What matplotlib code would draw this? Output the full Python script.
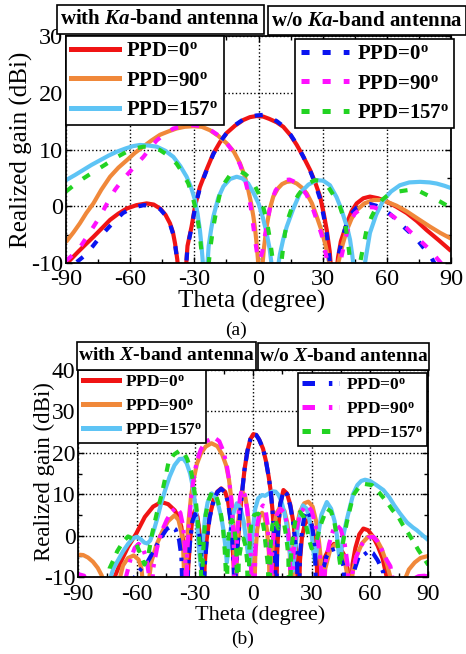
import numpy as np
import matplotlib
matplotlib.use("Agg")
import matplotlib.pyplot as plt
from matplotlib.patches import Rectangle
from matplotlib.lines import Line2D
from matplotlib.ticker import MultipleLocator

plt.rcParams['font.family'] = 'Liberation Serif'
plt.rcParams['axes.unicode_minus'] = False
plt.rcParams['mathtext.fontset'] = 'custom'
plt.rcParams['mathtext.rm'] = 'Liberation Serif:bold'
plt.rcParams['mathtext.it'] = 'Liberation Serif:italic:bold'
plt.rcParams['mathtext.bf'] = 'Liberation Serif:bold'
plt.rcParams['lines.scale_dashes'] = False

# ---------------- (a) Ka-band : (theta, gain) ----------------
ka_with_0 = [(-90,-10.8),(-88.9,-9.8),(-84,-7.9),(-80.5,-6.6),(-77.2,-5.4),(-73,-3.8),(-69.4,-2.4),
    (-65.5,-1.3),(-61.6,-0.4),(-57,0.2),(-52.3,0.5),(-49,0.3),(-46,-0.4),(-43.5,-1.5),(-41.4,-3.0),
    (-40,-4.6),(-39,-6.6),(-38,-9.3),(-37.3,-12),(-36,-25),(-34.3,-13),(-33.2,-7),(-31.3,-3.6),
    (-29.5,0.3),(-27.4,3.4),(-24,6.7),(-21.1,9.3),(-18,11.3),(-14.9,12.9),(-11,14.2),(-7.1,15.2),
    (-4,15.7),(-0.9,15.9),(2.2,15.8),(5,15.4),(8.5,14.8),(11.6,14.0),(15,12.5),(17.9,10.8),(21,8.7),
    (24.1,6.4),(26.5,4.2),(28.8,1.7),(30.5,-1.3),(31.9,-4.2),(33.3,-8),(34.1,-12),(35.3,-25),
    (36.4,-12),(37.2,-9),(38.5,-6.2),(41.3,-3.0),(43.5,-0.9),(45.9,0.5),(49,1.4),(52.1,1.7),(56,1.4),
    (60,0.8),(64.5,-0.1),(69.3,-1.2),(74,-2.6),(78.6,-4.2),(84,-5.9),(89.5,-7.7),(90,-7.9)]
ka_with_90 = [(-90,-6.3),(-86.5,-4.6),(-83.5,-3.0),(-80.5,-1.2),(-77.2,0.5),(-73.5,2.9),(-69.4,5.2),
    (-65.5,6.8),(-61.6,8.1),(-57.8,9.4),(-53.9,10.5),(-50,11.6),(-46,12.6),(-42,13.2),(-38.3,13.7),
    (-34.5,14.0),(-30.5,14.1),(-26.5,14.0),(-22.7,13.4),(-18.8,12.4),(-14.9,11.1),(-11.5,9.6),
    (-8.7,7.6),(-6.5,5.4),(-4.8,2.9),(-3.5,0.6),(-2.4,-1.8),(-1.6,-4.0),(-0.9,-6.5),(-0.3,-9.2),
    (0.3,-13),(0.9,-25),(1.5,-12),(2.5,-7.5),(3.8,-3.6),(5.2,-0.6),(6.9,1.7),(9,3.1),(11,3.9),
    (13.2,4.3),(15.5,4.4),(17.9,4.0),(20.2,3.3),(22.5,2.3),(25,0.5),(27.2,-1.8),(29.3,-4.1),
    (31.1,-6.5),(32.3,-8.5),(33.1,-10),(33.8,-13),(35,-25),(36.5,-13),(37.3,-10),(39.3,-6.8),
    (41.3,-4.2),(43.5,-2.2),(45.9,-0.7),(49.5,0.5),(53.7,1.1),(57,1.1),(60,0.8),(64.5,0.1),
    (69.3,-0.9),(74.5,-2.2),(80.2,-3.6),(85,-4.7),(89.5,-5.6),(90,-5.7)]
ka_with_157 = [(-90,4.6),(-85.8,5.5),(-81.9,6.4),(-78,7.3),(-74.1,8.1),(-70.2,8.9),(-66.3,9.6),
    (-62,10.2),(-58.6,10.6),(-55.4,10.8),(-51.5,10.7),(-47.6,10.5),(-43.7,9.8),(-39.8,8.7),
    (-36.6,7.1),(-33.6,5.2),(-31.5,3.3),(-29.7,1.1),(-28.5,-1.3),(-27.4,-4.2),(-26.6,-7.2),
    (-25.9,-10.5),(-25,-25),(-24,-11),(-23.3,-7),(-22.2,-4.2),(-21.1,-1.8),(-18.8,1.5),(-16.4,3.5),
    (-13.3,4.8),(-10.2,5.2),(-7.5,4.9),(-4.8,4.0),(-2.4,2.4),(0,0.5),(1.9,-1.8),(3.8,-4.7),
    (5.2,-7.5),(6.2,-10.5),(7.5,-25),(9,-11),(10,-8.5),(11.5,-5.9),(13.2,-3.6),(16.3,-0.4),
    (19.4,2.3),(23.3,3.8),(27.2,4.6),(30.3,4.5),(33.4,3.7),(36.5,1.6),(38.5,-0.3),(39.7,-1.7),
    (41.5,-3.8),(42.8,-5.9),(43.8,-8.5),(44.6,-11),(46.5,-25),(49,-12),(50.2,-9),(52.1,-4.7),
    (55,-1.5),(58.4,1.1),(62,2.6),(66.1,3.7),(70.5,4.2),(75.5,4.3),(80,4.2),(83.3,4.0),(87,3.6),(90,3.2)]
ka_wo_0 = [(-90,-13),(-85.5,-10),(-81,-8.6),(-77.6,-7.1),(-74.5,-5.6),(-71.2,-4.2),(-67.3,-2.6),
    (-63.4,-1.2),(-58.5,-0.2),(-53.5,0.2),(-49.5,0.0),(-46,-0.5),(-43.5,-1.6),(-41.4,-3.1),(-40,-4.8),
    (-39,-6.8),(-38,-9.5),(-37.3,-12),(-36,-25),(-34.3,-13),(-33.2,-7.2),(-31.3,-3.8),(-29.5,0.1),
    (-27.4,3.2),(-24,6.6),(-21.1,9.2),(-18,11.3),(-14.9,12.9),(-11,14.3),(-7.1,15.3),(-4,15.8),
    (-0.9,16.0),(2.2,16.1),(5,15.7),(8.5,15.0),(11.6,14.1),(15,12.6),(17.9,10.9),(21,8.7),(24.1,6.3),
    (26.5,4.0),(28.8,1.3),(30.5,-1.8),(31.9,-4.8),(33.0,-8.5),(33.8,-12),(35,-25),(36.2,-12),
    (37.5,-8.5),(39.5,-5.2),(41.3,-3.0),(43.5,-1.3),(46,-0.2),(49,0.3),(52,0.4),(55,0.1),(60,-0.9),
    (64,-2.2),(67.8,-3.6),(71.5,-4.9),(74.8,-6.2),(78,-7.7),(81,-9.2),(83,-10.5),(85,-13)]
ka_wo_90 = [(-90,-9.6),(-86,-8.3),(-82.7,-6.8),(-78.5,-4.4),(-74.1,-1.8),(-70.5,0.7),(-67.1,2.9),
    (-63.5,4.7),(-60.1,6.1),(-56.8,7.5),(-53.8,8.7),(-50.5,10.3),(-47.6,11.6),(-43.5,12.8),
    (-39.8,13.7),(-35,14.1),(-30.5,14.3),(-26.5,14.1),(-22.7,13.5),(-18.8,12.5),(-14.9,11.1),
    (-11.5,9.5),(-8.7,7.4),(-6.5,5.0),(-4.8,2.4),(-3.6,-0.2),(-2.6,-3.0),(-1.7,-5.6),(-0.8,-8.0),
    (0.5,-9.6),(1.8,-8.0),(3.2,-4.8),(4.5,-2.0),(5.9,0.8),(8,2.8),(10.5,4.0),(12.1,4.6),(14.5,4.7),
    (17.5,4.2),(20.2,3.2),(22.5,2.0),(25,0.0),(27.2,-2.4),(29.5,-5.0),(31,-7.5),(32.3,-10),
    (33.3,-14),(35,-25),(37,-13),(38.5,-9.4),(40.5,-5.9),(42.8,-2.8),(45,-1.3),(49,-0.1),(54,-0.2),
    (59.2,-0.9),(63,-1.8),(67,-3.0),(71,-4.5),(75.5,-6.0),(78.5,-7.1),(81,-8.0),(83.5,-9.2),
    (86,-10.3),(88,-12)]
ka_wo_157 = [(-90,2.6),(-86,3.8),(-81.9,4.9),(-76.5,6.2),(-71.8,7.3),(-66.5,8.6),(-61.6,9.6),
    (-57.5,10.2),(-53.8,10.5),(-50,10.4),(-46.1,9.9),(-42,8.9),(-38.3,7.5),(-35.5,5.9),(-32.8,4.0),
    (-30.7,1.5),(-28.9,-1.2),(-27.6,-4.5),(-26.6,-8.2),(-26,-11),(-25,-25),(-23.5,-11),(-22.6,-7.5),
    (-21.1,-3.6),(-19.6,-0.5),(-18,2.3),(-15.5,4.3),(-13.3,5.5),(-10.8,6.0),(-8.6,6.1),(-6.3,5.7),
    (-4.0,4.9),(-2,3.8),(0,2.3),(1.9,0.3),(3.8,-2.4),(5.2,-5.5),(6.2,-8.2),(7,-10.5),(8.5,-25),
    (10,-11.5),(10.8,-9.5),(12.4,-4.7),(14,-2.0),(16.3,0.5),(18.6,2.0),(21,3.2),(23.7,4.1),
    (26.4,4.6),(29.5,4.4),(32.6,3.4),(35.5,1.7),(38.1,-0.1),(40,-2.3),(41.2,-4.7),(42.1,-7.2),
    (42.8,-9.4),(43.5,-11),(45.5,-25),(47,-11),(48.5,-8),(50.5,-4.2),(52.8,-1.9),(55.2,-0.1),
    (58,1.2),(60.7,2.0),(65.5,2.6),(70.8,2.9),(75.5,2.6),(80.2,1.7),(85,0.8),(90,-0.3)]

# ---------------- (b) X-band ----------------
x_with_0 = [(-74,-14),(-71.3,-10),(-68,-6.2),(-64.4,-2.7),(-60.2,0.5),(-55.8,4.5),(-51.5,7.0),
    (-47.3,8.1),(-43.8,7.6),(-40.4,6.1),(-38.5,4.5),(-37,2.1),(-35.8,-2.5),(-35,-7),(-34.4,-20),
    (-33.5,-8),(-32.5,-1),(-31.3,4.2),(-30,6.1),(-28.7,4.5),(-27.5,0),(-26.5,-6),(-25.8,-20),
    (-25,-7),(-24,-1),(-22.5,4.5),(-20.5,8.5),(-18.5,10.6),(-16.5,11.4),(-14.5,10.6),(-13,8.3),
    (-11.8,4.5),(-10.8,-1),(-10,-8),(-9.5,-20),(-9,-8),(-8,-2),(-7,4),(-6,9.5),(-4.5,16.0),
    (-3,20.5),(-1.5,23.3),(0,24.5),(1.5,24.3),(3,23.2),(5,21.0),(6.5,18.0),(8,14),(9,10.5),(9.9,6),
    (10.6,1),(11.2,-5),(11.7,-20),(12.2,-5),(12.9,2),(13.8,7.5),(15.5,11.0),(17.3,10.2),(19,7.5),
    (20.5,3.5),(21.5,-0.5),(22.5,-6),(23.2,-20),(24,-6),(25,-0.5),(26.5,2.8),(28.3,3.9),(30,2.6),
    (31.5,-1),(32.6,-6),(33.5,-20),(34.5,-9),(36,-6),(38.6,-3.5),(41.5,-2),(44,-2.5),(46.5,-4.5),
    (48.5,-8),(49.8,-20),(51,-7),(52.5,-3),(54.5,0.3),(56.6,1.7),(59,1.3),(61.5,-0.2),(64,-2.5),
    (66.5,-5.5),(68.6,-10),(70,-20)]
x_with_90 = [(-90,-4.6),(-87.5,-4.7),(-85,-5.3),(-82.5,-6.3),(-80,-7.8),(-78,-9.6),(-76.5,-12),
    (-75.5,-20),(-70.5,-20),(-69,-11),(-67,-7.2),(-64.4,-5.4),(-61.5,-4.8),(-59,-5.8),(-57.5,-8),
    (-56.7,-12),(-55,-20),(-54,-12),(-52.5,-6.5),(-50,-2.5),(-47,0.8),(-44,3.4),(-40.5,4.9),
    (-38.5,3.8),(-37,0.8),(-36,-4),(-35.4,-12),(-35,-20),(-34.3,-4),(-33.3,3.5),(-32,9.5),
    (-30.5,14),(-29,17.3),(-27,19.8),(-24.5,21.5),(-21.5,22.3),(-18.5,21.6),(-16,19.6),(-14,17),
    (-12.5,13.5),(-11.2,8.5),(-10.3,3),(-9.8,-3),(-9.4,-20),(-9,-20),(-8.5,-4),(-7.8,3),(-6.8,8.5),
    (-5.5,10.5),(-4.2,9.5),(-3.1,6.5),(-2,1.5),(-1.2,-5),(-0.6,-20),(0.3,-20),(1,-5),(2,1.5),
    (3.2,4.5),(4.5,5.5),(5.8,4.5),(7,1.5),(8,-4),(8.7,-20),(9.6,-5),(10.5,1.5),(12,5.5),(14,7.0),
    (16,6),(17.5,3),(18.7,-2),(19.5,-20),(20.7,-4),(22,1.5),(24,5.8),(26.2,7.8),(28.3,8.2),
    (30.5,7),(32.3,3.5),(33.8,-1.5),(34.8,-6),(35.5,-20),(37,-8),(39.5,-3.5),(42,-2.2),(44.5,-3),
    (47,-6),(48.5,-10),(49.5,-20),(51,-9),(53,-5),(56,-1.8),(59,-0.3),(61,-0.1),(63.5,-1),
    (66,-3.2),(68.5,-6.5),(70.5,-10),(71.5,-20),(76.5,-20),(78,-10.5),(80,-8.2),(83,-6.5),
    (86,-5.4),(90,-4.9)]
x_with_157 = [(-75,-20),(-74,-11),(-72,-8),(-69.5,-5.9),(-67,-3.8),(-64.4,-2),(-62,-0.7),(-60,-0.3),
    (-58,-0.8),(-56,-1.7),(-54.5,-1.9),(-53,-1.2),(-51,1.5),(-49,4.8),(-47.3,8.0),(-45,11.5),
    (-43,14.3),(-40.5,17),(-38,18.5),(-36,18.6),(-34.3,17.5),(-32.5,15),(-31,11.5),(-30,8),
    (-29,3.5),(-28.3,-1),(-27.6,-5),(-27,-7.3),(-26.4,-5),(-25.7,0),(-24.8,4.5),(-23.5,8),
    (-21.4,10.2),(-19.5,9.2),(-18,7.4),(-16.5,4.5),(-15.4,1.5),(-14.4,-2.5),(-13.6,-6.5),(-13,-4),
    (-12,0.5),(-10.5,5),(-8.5,7.8),(-6.5,6.5),(-5,3.5),(-3.7,-1),(-2.6,-5),(-1.8,-7.2),(-1,-3),
    (0,2.5),(1,6.5),(2.5,9),(4.5,9.8),(6,9.6),(8,10.2),(10,10.7),(11.5,10.6),(13,9.8),(14.5,8.2),
    (16,5.5),(17.3,2),(18.4,-2.5),(19.4,-6.5),(20.3,-8.5),(21.2,-5),(22.2,-0.5),(23.5,4),(25.5,7.3),
    (27.5,6.5),(29,3.5),(30.2,-0.5),(31,-4),(31.7,-6.3),(32.5,-4),(33.5,0.5),(35,5),(37.8,8.1),
    (40,6.5),(41.8,3.5),(43,0),(43.9,-4),(44.6,-6.3),(45.5,-3),(46.5,0.5),(48,3.7),(50,7.5),
    (51.5,10.2),(53.5,12.2),(55.5,13.2),(57.5,13.5),(60,13.2),(63,12.3),(66.9,11),(70,9.2),
    (72.5,7.3),(75.5,5.3),(79,3.2),(82,2),(84.1,1.3),(87,0.1),(90,-1.1)]
x_wo_0 = [(-63,-20),(-61,-10),(-58,-8.2),(-54.7,-6.6),(-51,-3.5),(-47.5,-0.5),(-44.5,1.6),(-42.2,2.2),
    (-40,1.5),(-38.2,-1),(-37,-5),(-36,-20),(-34.2,-20),(-33.5,-7),(-32.5,-1.5),(-31.3,3.5),(-30,5.2),
    (-28.7,3.8),(-27.5,-0.5),(-26.5,-6.5),(-25.8,-20),(-25,-7.5),(-24,-1.5),(-22.5,4.2),(-20.5,8.3),
    (-18.5,10.5),(-16.5,11.3),(-14.5,10.4),(-13,8),(-11.8,4),(-10.8,-1.5),(-10,-8.5),(-9.5,-20),
    (-9,-8),(-8,-2),(-7,4),(-6,9.5),(-4.5,16.0),(-3,20.5),(-1.5,23.3),(0,24.5),(1.5,24.3),(3,23.2),
    (5,21.0),(6.5,18.0),(8,14),(9,10.5),(9.9,6),(10.6,1),(11.2,-5),(11.7,-20),(12.2,-5),(12.9,2),
    (13.8,7.5),(15.5,10.8),(17.3,10.0),(19,7.2),(20.5,3.2),(21.5,-1),(22.5,-6.5),(23.2,-20),
    (24,-5),(25,1),(26.3,4.8),(27.6,6.0),(29,4.8),(30.5,1.5),(31.7,-3),(32.6,-20),(34,-20),
    (35.5,-9),(37.5,-5.2),(39.5,-3.6),(42,-3.2),(44.5,-4.5),(46.5,-7.5),(47.5,-20),(50,-20),
    (51.5,-9),(54.3,-5),(57,-4.6),(59.5,-3.7),(61.5,-4.2),(64,-6),(66.8,-8.8),(68,-20)]
x_wo_90 = [(-90,-9.3),(-87,-9.7),(-85.5,-12),(-84,-20),(-67,-20),(-65.5,-10),(-63,-5.5),(-61,-3),
    (-59,-2.0),(-57,-2.8),(-55,-5.5),(-53.5,-10),(-52.8,-20),(-51.5,-8),(-49.5,-3),(-47.3,0.8),
    (-44.5,3.8),(-42,5.8),(-39.5,6.8),(-37.5,5.5),(-36,2),(-35,-4),(-34.5,-20),(-34,-4),(-33,3),
    (-32,9),(-30.5,14.5),(-29,18),(-27,20.8),(-24.5,22.7),(-21.5,23.4),(-19.5,23.5),(-17.5,22.8),
    (-15.5,20.5),(-13.7,17.2),(-12.3,13),(-11.3,8.5),(-10.5,3),(-10,-3),(-9.6,-20),(-9.2,-20),
    (-8.6,-3),(-7.8,4),(-6.8,9.5),(-5.8,11.2),(-4.5,10),(-3.2,6.5),(-2,1),(-1.2,-6),(-0.6,-20),
    (0.4,-20),(1,-4),(2,2.5),(3.5,6.3),(5,7.3),(6.3,6.3),(7.4,2.5),(8.2,-4),(8.8,-20),(9.6,-5),
    (10.5,1),(12,5),(14,6.5),(16,5.5),(17.5,2.5),(18.7,-3),(19.5,-20),(20.7,-4),(22,1),(24,5),
    (26.2,6.8),(28,7.2),(30,6),(32,2.5),(33.6,-2.5),(34.8,-7),(35.5,-20),(37,-7),(39,-2),(41,1.2),
    (43,2.5),(45,1.5),(47,-2),(48.5,-7),(49.5,-20),(51,-9),(53,-5),(56,-2),(59,-0.5),(61.8,-0.3),
    (64,-1.5),(66.5,-3.8),(68.5,-5.8),(70.5,-7.4),(71.5,-10),(72.5,-20),(80,-20),(82,-10.5),
    (85,-9.8),(88,-9.7),(90,-9.9)]
x_wo_157 = [(-76,-20),(-75,-11),(-73.9,-7.9),(-72,-6),(-70,-3.8),(-67,-1.5),(-64.4,-0.2),(-62,-0.8),
    (-60,-2.2),(-58,-4.5),(-56,-7),(-54,-4.7),(-52,0.5),(-49.7,5.3),(-47,10.2),(-45,14.5),
    (-43.7,17.5),(-41,19.5),(-38,20.5),(-36,20.2),(-34,18.5),(-32,15.5),(-30.8,12.5),(-29.5,8),
    (-28.5,3),(-27.6,-2),(-27,-6.5),(-26.5,-20),(-26,-6),(-25.3,0),(-24.5,5),(-23,8.5),(-21.2,10.6),
    (-19,9.5),(-17.1,6.5),(-15.6,2),(-14.7,-3.5),(-14.2,-8),(-13.8,-20),(-13.2,-3),(-12.2,2.5),
    (-11,3.8),(-9.8,2),(-8.8,-2.5),(-8,-20),(-7.5,-6),(-6,-1.5),(-5,-0.7),(-4,-2.5),(-3.2,-6),
    (-2.6,-20),(-2,-3),(-1,3.5),(0.5,5),(2.5,5.3),(4.3,4.5),(5.5,1.5),(6.5,-3),(7.5,-7),(8.2,-20),
    (8.8,-3),(9.8,2.5),(11,4.2),(12.9,1.7),(14.5,2.8),(16,2.5),(17,-0.5),(18,-4.7),(18.7,-20),
    (19.5,-4),(20.5,0.5),(21.5,3.3),(24,5.7),(26,4.5),(27.5,1.7),(29,-1.5),(30,-3.1),(31.2,-2.5),
    (32.6,-1.1),(34,1.5),(35.2,3.3),(37.8,6.5),(40,5.8),(41.8,3),(43,-0.5),(44,-4.5),(44.8,-7.5),
    (46,-2),(48,3),(50,7),(51.5,9.8),(54,11.5),(57,12.5),(61,12.2),(64.5,10.5),(68.6,8.2),
    (71.5,6.2),(74.6,4.5),(77,2.5),(79.8,0.5),(82.5,-1.5),(84.9,-3.5),(87.5,-5.3),(90,-7.1)]

ppd_labels = ['PPD=0$^{\\rm o}$', 'PPD=90$^{\\rm o}$', 'PPD=157$^{\\rm o}$']
solid_colors = ['#f01414', '#f0883a', '#5ec4f5']
dash_colors = ['#0a14f0', '#ff10ff', '#22d322']

W, H = 466, 654
fig = plt.figure(figsize=(W/100, H/100), dpi=100)

def fx(px):
    return px / W

def fy(py):
    return 1 - py / H

def make_ax(l, t, r, b, ymax, tsize, xpad):
    ax = fig.add_axes([fx(l), fy(b), fx(r) - fx(l), fy(t) - fy(b)])
    ax.set_xlim(-90, 90)
    ax.set_ylim(-10, ymax)
    ax.set_xticks(np.arange(-90, 91, 30))
    ax.set_yticks(np.arange(-10, ymax + 1, 10))
    ax.xaxis.set_minor_locator(MultipleLocator(15))
    ax.yaxis.set_minor_locator(MultipleLocator(5))
    ax.tick_params(which='both', direction='in', top=True, right=True, width=1)
    ax.tick_params(which='major', length=4)
    ax.tick_params(which='minor', length=3)
    ax.tick_params(axis='both', labelsize=tsize)
    ax.tick_params(axis='x', pad=xpad)
    ax.tick_params(axis='y', pad=2)
    ax.grid(True, which='major', linestyle=':', color='k', linewidth=1.0)
    for s in ax.spines.values():
        s.set_linewidth(1.3)
    return ax

def draw(ax, series, colors, dashes):
    for data, c in zip(series, colors):
        t, g = zip(*data)
        if dashes is None:
            ax.plot(t, g, color=c, lw=3, solid_capstyle='butt')
        else:
            ax.plot(t, g, color=c, lw=3, dashes=dashes, dash_capstyle='butt')

def legend_lines(colors, dashes, lw):
    hs = []
    for c in colors:
        if dashes is None:
            hs.append(Line2D([], [], color=c, lw=lw))
        else:
            hs.append(Line2D([], [], color=c, lw=lw, dashes=dashes, dash_capstyle='butt'))
    return hs

def title_box(l, t, r, b, text, size):
    fig.add_artist(Rectangle((fx(l), fy(b)), fx(r) - fx(l), fy(t) - fy(b),
                             transform=fig.transFigure, facecolor='white',
                             edgecolor='black', lw=1.2))
    fig.text(fx((l + r) / 2), fy((t + b) / 2), text, ha='center', va='center',
             fontsize=size, fontweight='bold')

# ---------- panel (a) ----------
ax1 = make_ax(66, 36, 451, 263, 30, 17.5, 4)
draw(ax1, [ka_with_0, ka_with_90, ka_with_157], solid_colors, None)
draw(ax1, [ka_wo_0, ka_wo_90, ka_wo_157], dash_colors, (5.8, 9.4))
lg = ax1.legend(legend_lines(solid_colors, None, 3.6), ppd_labels, loc='upper left',
                bbox_to_anchor=(0, 1), borderaxespad=0, handlelength=2.3,
                handletextpad=0.35, labelspacing=0.45, borderpad=0.25, fancybox=False,
                framealpha=1, edgecolor='black', prop={'weight': 'bold', 'size': 15})
lg.get_frame().set_linewidth(1.2)
ax1.add_artist(lg)
lg2 = ax1.legend(legend_lines(dash_colors, (5.8, 9.4), 3.6), ppd_labels, loc='upper right',
                 bbox_to_anchor=((454 - 66) / 385, (263 - 39) / 227), borderaxespad=0,
                 handlelength=2.3, handletextpad=0.4, labelspacing=0.45, borderpad=0.25,
                 fancybox=False, framealpha=1, edgecolor='black',
                 prop={'weight': 'bold', 'size': 15})
lg2.get_frame().set_linewidth(1.2)

title_box(57, 5, 264, 34, 'with $Ka$-band antenna', 15)
title_box(268, 6, 466, 35, 'w/o $Ka$-band antenna', 15)
fig.text(fx(21), fy(150), 'Realized gain (dBi)', rotation=90, ha='center', va='center', fontsize=18)
fig.text(fx(252), fy(301), 'Theta (degree)', ha='center', va='center', fontsize=18)
fig.text(fx(236), fy(330), '(a)', ha='center', va='center', fontsize=14)

# ---------- panel (b) ----------
ax2 = make_ax(78.3, 370, 428.3, 577, 40, 17, 5)
draw(ax2, [x_with_0, x_with_90, x_with_157], solid_colors, None)
draw(ax2, [x_wo_0, x_wo_90], dash_colors[:2], (9, 5, 2.5, 5))
draw(ax2, [x_wo_157], dash_colors[2:], (6, 6))
lg3 = ax2.legend(legend_lines(solid_colors, None, 3.6), ppd_labels, loc='upper left',
                 bbox_to_anchor=(0, 1), borderaxespad=0, handlelength=2.1,
                 handletextpad=0.35, labelspacing=0.45, borderpad=0.25, fancybox=False,
                 framealpha=1, edgecolor='black', prop={'weight': 'bold', 'size': 12.5})
lg3.get_frame().set_linewidth(1.2)
ax2.add_artist(lg3)
h4 = [Line2D([], [], color=dash_colors[0], lw=3.6, dashes=(9, 10, 2.5, 5), dash_capstyle='butt'),
      Line2D([], [], color=dash_colors[1], lw=3.6, dashes=(9, 10, 2.5, 5), dash_capstyle='butt'),
      Line2D([], [], color=dash_colors[2], lw=3.6, dashes=(6, 8), dash_capstyle='butt')]
lg4 = ax2.legend(h4, ppd_labels, loc='upper right',
                 bbox_to_anchor=((427 - 78.3) / 350, (577 - 373) / 207), borderaxespad=0,
                 handlelength=2.1, handletextpad=0.4, labelspacing=0.45, borderpad=0.25,
                 fancybox=False, framealpha=1, edgecolor='black',
                 prop={'weight': 'bold', 'size': 12.5})
lg4.get_frame().set_linewidth(1.2)

title_box(77, 342, 256, 370, 'with $X$-band antenna', 14)
title_box(258, 343, 429, 370, 'w/o $X$-band antenna', 14)
fig.text(fx(44), fy(472), 'Realized gain (dBi)', rotation=90, ha='center', va='center', fontsize=16.5)
fig.text(fx(260), fy(615), 'Theta (degree)', ha='center', va='center', fontsize=16)
fig.text(fx(243), fy(639), '(b)', ha='center', va='center', fontsize=14)

fig.savefig('out.png', dpi=100)
